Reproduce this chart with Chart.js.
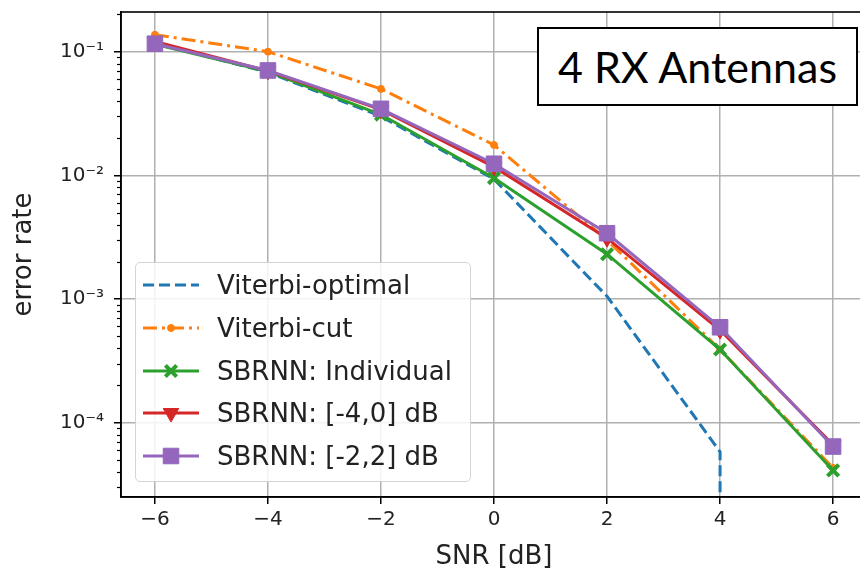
<!DOCTYPE html>
<html>
<head>
<meta charset="utf-8">
<script src="https://cdn.jsdelivr.net/npm/chart.js@4/dist/chart.umd.min.js"></script>
<style>
  html, body { margin: 0; padding: 0; background: #fff; overflow: hidden; }
  #wrap { position: absolute; left: 0; top: 0; width: 880px; height: 570px; }
  #legend {
    position: absolute; left: 135px; top: 262px; width: 336px; height: 220px;
    box-sizing: border-box; border: 1.5px solid #d4d4d4; border-radius: 5px;
    background: rgba(255,255,255,0.85);
    font-family: "DejaVu Sans", sans-serif; font-size: 26px; color: #222;
  }
  .row { position: absolute; left: 0; height: 30px; display: flex; align-items: center; }
  .row canvas { margin-left: 6px; margin-right: 17px; }
  #note {
    position: absolute; left: 537px; top: 27px; width: 321px; height: 79px;
    box-sizing: border-box; border: 2px solid #000; background: #fff;
    display: flex; align-items: center; justify-content: center;
    font-family: Lato, "Liberation Sans", sans-serif; font-size: 43px; color: #000;
  }
</style>
</head>
<body>
<div id="wrap"><canvas id="berChart"></canvas></div>
<div id="note">4 RX Antennas</div>
<div id="legend"></div>
<script>
// SNR points [dB]
var snr = [-6, -4, -2, 0, 2, 4, 6];
// Viterbi-optimal has no value at 6 dB, the curve falls off the axis at 4 dB
var snrOpt = [-6, -4, -2, 0, 2, 4, 4];
var viterbiOptimal = [0.118, 0.068, 0.030, 0.0093, 0.00105, 0.000058, 1e-9];
var viterbiCut = [0.137, 0.100, 0.050, 0.0176, 0.0030, 0.00039, 0.000043];
var sbrnnIndividual = [0.115, 0.069, 0.031, 0.0095, 0.0023, 0.00039, 0.000041];
var sbrnn40 = [0.121, 0.070, 0.034, 0.0117, 0.0031, 0.00056, 0.000066];
var sbrnn22 = [0.116, 0.0705, 0.0345, 0.0124, 0.0034, 0.00059, 0.000064];

var xTicks = [-6, -4, -2, 0, 2, 4, 6];
var yDecades = [1e-4, 1e-3, 1e-2, 1e-1];
var yTickLabels = ['10\u207B\u2074', '10\u207B\u00B3', '10\u207B\u00B2', '10\u207B\u00B9'];

function pts(xs, ys) {
  var out = [];
  for (var i = 0; i < ys.length; i++) out.push({x: xs[i], y: ys[i]});
  return out;
}

var datasets = [
  {label: 'Viterbi-optimal', data: pts(snrOpt, viterbiOptimal), borderColor: '#1f77b4', backgroundColor: '#1f77b4',
   borderDash: [11, 5], pointRadius: 0, pointStyle: false},
  {label: 'Viterbi-cut', data: pts(snr, viterbiCut), borderColor: '#ff7f0e', backgroundColor: '#ff7f0e',
   borderDash: [14, 5, 3, 5], pointRadius: 3.5, pointStyle: 'circle'},
  {label: 'SBRNN: Individual', data: pts(snr, sbrnnIndividual), borderColor: '#2ca02c', backgroundColor: '#2ca02c',
   pointRadius: 8, pointStyle: 'crossRot', pointBorderWidth: 4},
  {label: 'SBRNN: [-4,0] dB', data: pts(snr, sbrnn40), borderColor: '#d62728', backgroundColor: '#d62728',
   pointRadius: 9, pointStyle: 'triangle', rotation: 180},
  {label: 'SBRNN: [-2,2] dB', data: pts(snr, sbrnn22), borderColor: '#9467bd', backgroundColor: '#9467bd',
   pointRadius: 11, pointStyle: 'rect'}
];
datasets.forEach(function(ds, i) {
  ds.borderWidth = 3;
  ds.tension = 0;
  ds.fill = false;
  ds.order = datasets.length - i;
  if (ds.pointBorderWidth === undefined) ds.pointBorderWidth = 1;
});

// frame + minor log ticks
var framePlugin = {
  id: 'frame',
  afterDraw: function(chart) {
    var ctx = chart.ctx, a = chart.chartArea, ys = chart.scales.y;
    ctx.save();
    ctx.strokeStyle = '#000';
    ctx.lineWidth = 1.6;
    ctx.strokeRect(a.left, a.top, a.right - a.left, a.bottom - a.top);
    ctx.lineWidth = 1.2;
    ys.ticks.forEach(function(t) {
      if (t.minor) {
        var py = Math.round(ys.getPixelForValue(t.value)) + 0.5;
        ctx.beginPath();
        ctx.moveTo(a.left - 4, py);
        ctx.lineTo(a.left, py);
        ctx.stroke();
      }
    });
    ctx.restore();
  }
};

const berCanvas = document.getElementById('berChart');
let berChart = new Chart(berCanvas, {
  type: 'line',
  data: {datasets: datasets},
  plugins: [framePlugin],
  options: {
    responsive: true,
    maintainAspectRatio: false,
    animation: false,
    layout: {padding: {left: 0, top: 9, right: 13, bottom: 0}},
    plugins: {legend: {display: false}, tooltip: {enabled: false}},
    scales: {
      x: {
        type: 'linear', min: -6.6, max: 6.6,
        afterBuildTicks: function(scale) {
          scale.ticks = xTicks.map(function(v) { return {value: v}; });
        },
        afterFit: function(scale) { scale.height = 73; scale.paddingLeft = 0; scale.paddingRight = 0; },
        grid: {color: '#b0b0b0', lineWidth: 1.5, tickColor: '#000', tickLength: 7},
        border: {color: '#000', width: 1.6},
        ticks: {color: '#222', padding: 4, font: {family: 'DejaVu Sans', size: 20},
          callback: function(v) { return String(v).replace('-', '\u2212'); }},
        title: {display: true, text: 'SNR [dB]', color: '#222',
          font: {family: 'DejaVu Sans', size: 26, lineHeight: 1}, padding: {top: 0, bottom: 0}}
      },
      y: {
        type: 'logarithmic', min: 2.5e-5, max: 0.2094,
        afterBuildTicks: function(scale) {
          var t = [];
          yDecades.forEach(function(d) {
            for (var k = 1; k < 10; k++) {
              var v = d * k;
              if (v >= scale.min && v <= scale.max) t.push({value: v, minor: k > 1});
            }
          });
          var below = yDecades[0] / 10;
          for (var k = 2; k < 10; k++) {
            if (below * k >= scale.min) t.push({value: below * k, minor: true});
          }
          t.sort(function(p, q) { return p.value - q.value; });
          scale.ticks = t;
        },
        afterFit: function(scale) { scale.width = 121; scale.paddingTop = 0; scale.paddingBottom = 0; },
        grid: {
          lineWidth: 1.5, tickLength: 7,
          color: function(c) { return c.tick && !c.tick.minor ? '#b0b0b0' : 'rgba(0,0,0,0)'; },
          tickColor: function(c) { return c.tick && !c.tick.minor ? '#000' : 'rgba(0,0,0,0)'; }
        },
        border: {color: '#000', width: 1.6},
        ticks: {color: '#222', padding: 10, autoSkip: false, font: {family: 'DejaVu Sans', size: 20},
          callback: function(v) {
            for (var i = 0; i < yDecades.length; i++) {
              if (Math.abs(v / yDecades[i] - 1) < 1e-6) return yTickLabels[i];
            }
            return '';
          }},
        title: {display: true, text: 'error rate', color: '#222',
          font: {family: 'DejaVu Sans', size: 26, lineHeight: 1.2}, padding: {top: 9, bottom: 0}}
      }
    }
  }
});

// legend like matplotlib: line with marker in the middle
var legendBox = document.getElementById('legend');
datasets.forEach(function(ds, i) {
  var row = document.createElement('div');
  row.className = 'row';
  row.style.top = (7 + i * 42.75) + 'px';
  var c = document.createElement('canvas');
  c.width = 58; c.height = 30;
  var g = c.getContext('2d');
  g.strokeStyle = ds.borderColor;
  g.lineWidth = ds.borderWidth;
  g.setLineDash(ds.borderDash || []);
  g.beginPath();
  g.moveTo(1, 15); g.lineTo(57, 15);
  g.stroke();
  g.setLineDash([]);
  if (ds.pointStyle && Chart.helpers && Chart.helpers.drawPoint) {
    g.fillStyle = ds.backgroundColor;
    g.lineWidth = ds.pointBorderWidth;
    Chart.helpers.drawPoint(g, {pointStyle: ds.pointStyle, radius: ds.pointRadius,
      rotation: ds.rotation || 0, borderWidth: ds.pointBorderWidth}, 29, 15);
  }
  row.appendChild(c);
  var s = document.createElement('span');
  s.textContent = ds.label;
  row.appendChild(s);
  legendBox.appendChild(row);
});
</script>
</body>
</html>
